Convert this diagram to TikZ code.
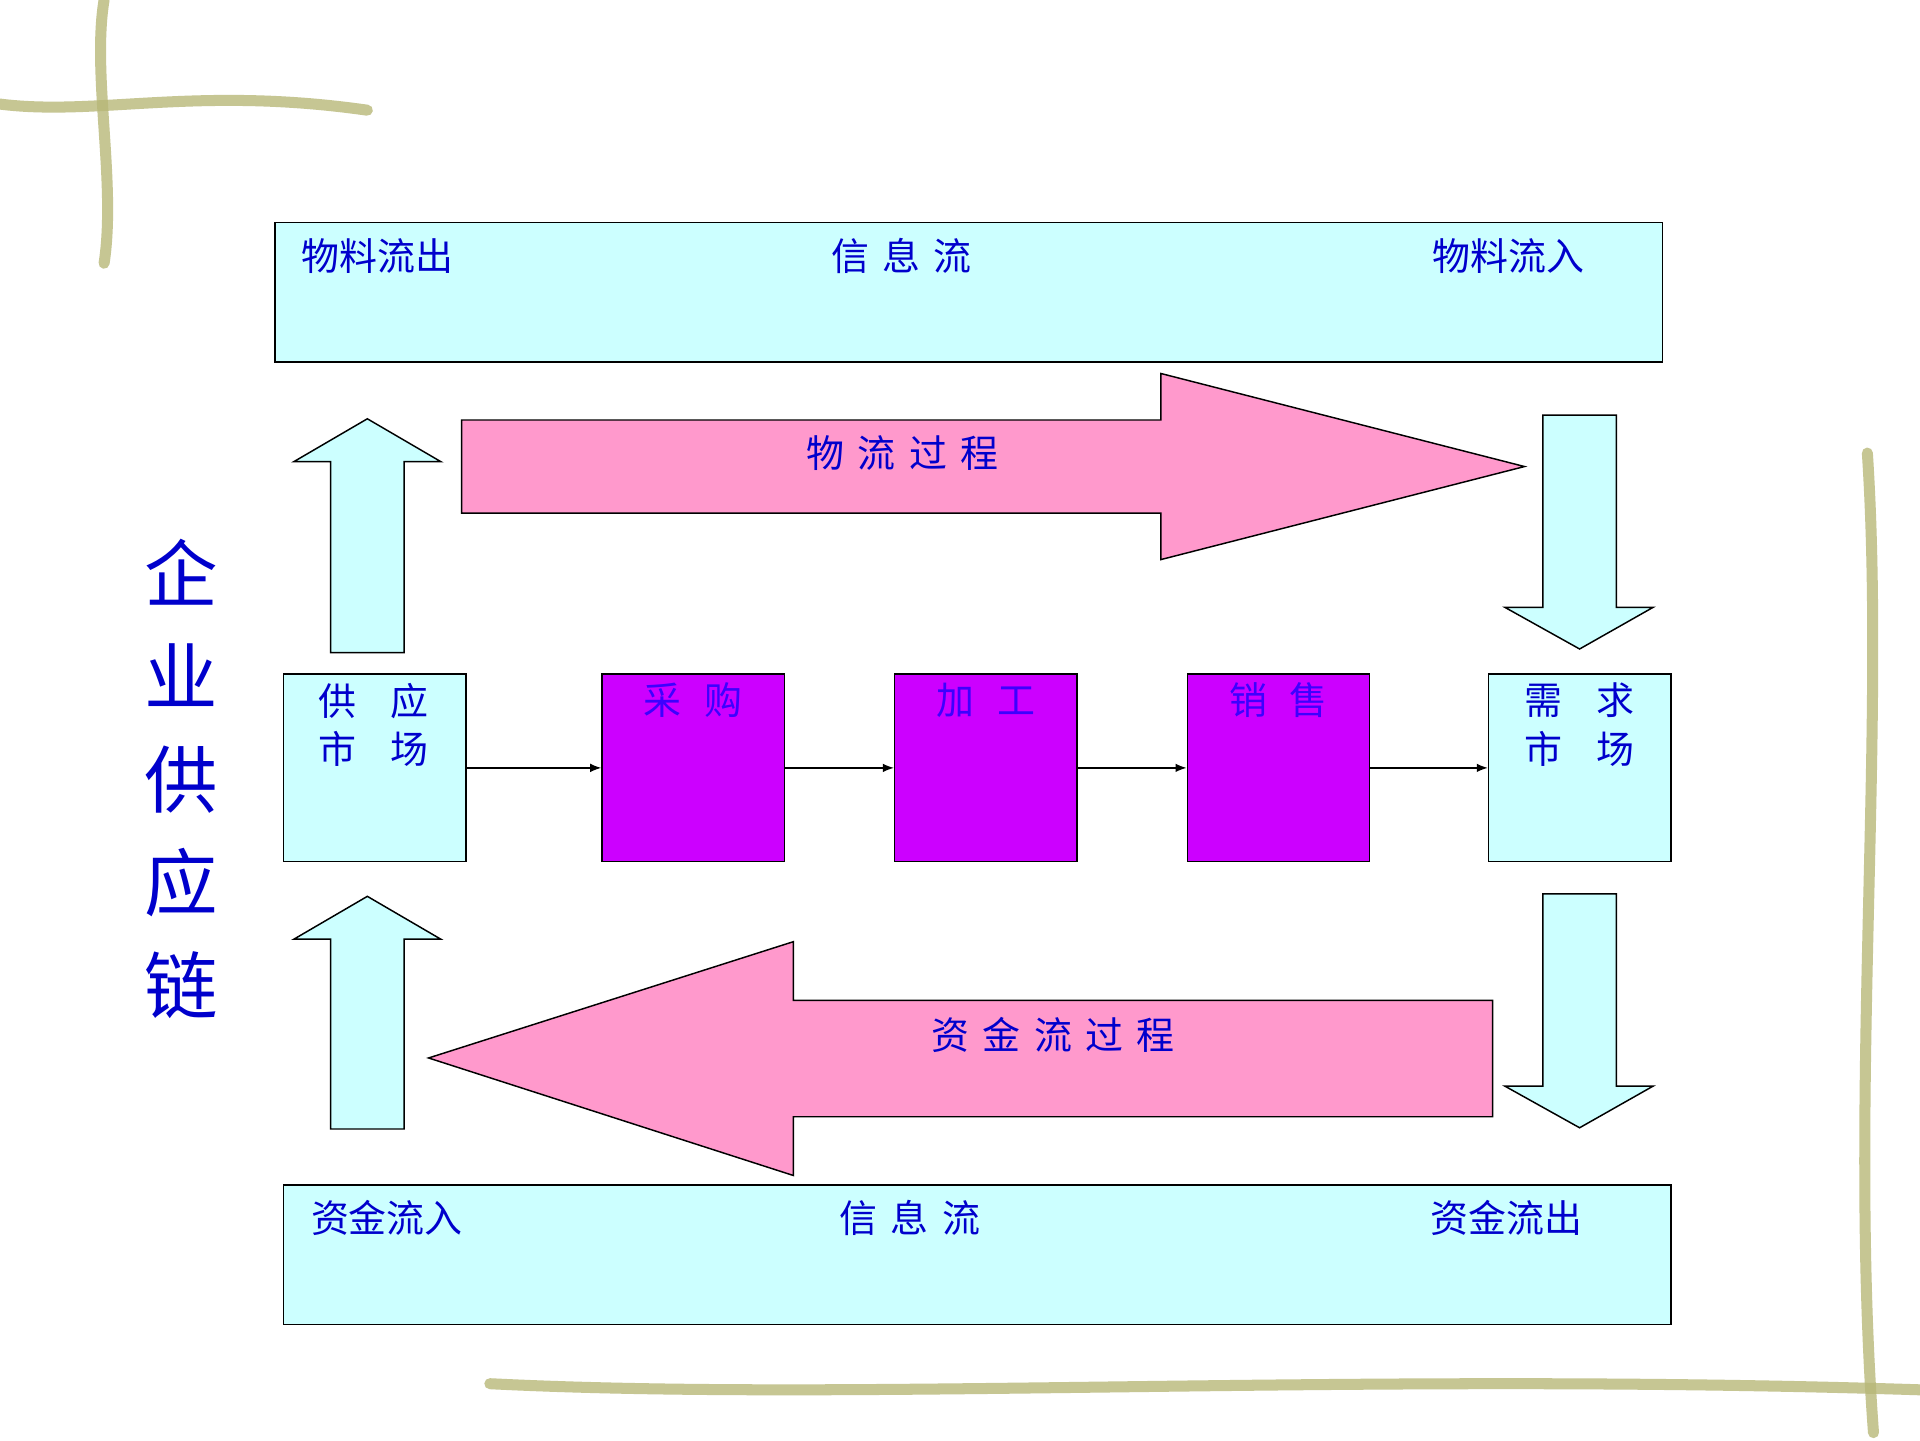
\documentclass[tikz,border=0pt]{standalone}
\usepackage{fontspec}
\setmainfont{Noto Sans CJK SC}
\usetikzlibrary{arrows.meta}
\definecolor{lc}{HTML}{CCFFFF}
\definecolor{pk}{HTML}{FF99CC}
\definecolor{pu}{HTML}{CC00FF}
\definecolor{tb}{HTML}{0000CC}
\definecolor{vine}{HTML}{B8B878}
\newcommand{\gapx}{\hspace{0.35em}}
\begin{document}
\begin{tikzpicture}[x=1pt,y=-1pt,
  box/.style={draw=black,line width=1.2pt},
  cbox/.style={box,fill=lc},
  pbox/.style={box,fill=pu,minimum width=149pt,minimum height=153pt,anchor=north west},
  lab/.style={text=tb,font=\fontsize{31}{40}\selectfont},
  conn/.style={-{Latex[length=9pt,width=7pt]},line width=1pt}]
\useasboundingbox[fill=white] (0,0) rectangle (1568,1176);
% faint vines
\begin{scope}[vine,line width=9pt,opacity=0.8,line cap=round]
\draw (0,85) .. controls (80,95) and (160,70) .. (300,90);
\draw (85,0) .. controls (75,60) and (95,150) .. (85,215);
\draw (1525,370) .. controls (1540,600) and (1510,900) .. (1530,1170);
\draw (400,1130) .. controls (700,1145) and (1100,1120) .. (1568,1135);
\end{scope}
% top and bottom boxes
\node[cbox,minimum width=1133pt,minimum height=114pt,anchor=north west] (top) at (224,181) {};
\node[cbox,minimum width=1133pt,minimum height=114pt,anchor=north west] (bot) at (231,967) {};
\node[lab] at (308,209) {物料流出};
\node[lab] at (736,209) {信\gapx 息\gapx 流};
\node[lab] at (1232,209) {物料流入};
\node[lab] at (316,995) {资金流入};
\node[lab] at (743,995) {信\gapx 息\gapx 流};
\node[lab] at (1230,995) {资金流出};
% block arrows
\draw[box,fill=lc] (270,533)--(270,377)--(240,377)--(300,342)--(360,377)--(330,377)--(330,533)--cycle;
\draw[box,fill=lc] (270,922)--(270,767)--(240,767)--(300,732)--(360,767)--(330,767)--(330,922)--cycle;
\draw[box,fill=lc] (1260,339)--(1260,496)--(1229,496)--(1290,530)--(1350,496)--(1320,496)--(1320,339)--cycle;
\draw[box,fill=lc] (1260,730)--(1260,887)--(1229,887)--(1290,921)--(1350,887)--(1320,887)--(1320,730)--cycle;
\draw[box,fill=pk] (377,343)--(948,343)--(948,305)--(1245,381)--(948,457)--(948,419)--(377,419)--cycle;
\draw[box,fill=pk] (1219,817)--(648,817)--(648,769)--(350,864)--(648,960)--(648,912)--(1219,912)--cycle;
\node[lab] at (737,370) {物\gapx 流\gapx 过\gapx 程};
\node[lab] at (860,845) {资\gapx 金\gapx 流\gapx 过\gapx 程};
% middle row
\node[cbox,minimum width=149pt,minimum height=153pt,anchor=north west] (sup) at (231,550) {};
\node[pbox] (buy) at (491,550) {};
\node[pbox] (make) at (730,550) {};
\node[pbox] (sell) at (969,550) {};
\node[cbox,minimum width=149pt,minimum height=153pt,anchor=north west] (dem) at (1215,550) {};
\node[lab,align=center] at (305,592) {供\hspace{0.9em}应\\市\hspace{0.9em}场};
\node[lab,align=center] at (1290,592) {需\hspace{0.9em}求\\市\hspace{0.9em}场};
\node[lab,text=blue!70!pu] at (566,572) {采\hspace{0.6em}购};
\node[lab,text=blue!70!pu] at (805,572) {加\hspace{0.6em}工};
\node[lab,text=blue!70!pu] at (1044,572) {销\hspace{0.6em}售};
\draw[conn] (sup.east) -- (buy.west);
\draw[conn] (buy.east) -- (make.west);
\draw[conn] (make.east) -- (sell.west);
\draw[conn] (sell.east) -- (dem.west);
% vertical title
\node[text=tb,font=\fontsize{60}{84}\selectfont,align=center] (title) at (148,636) {企\\业\\供\\应\\链};
\end{tikzpicture}
\end{document}
